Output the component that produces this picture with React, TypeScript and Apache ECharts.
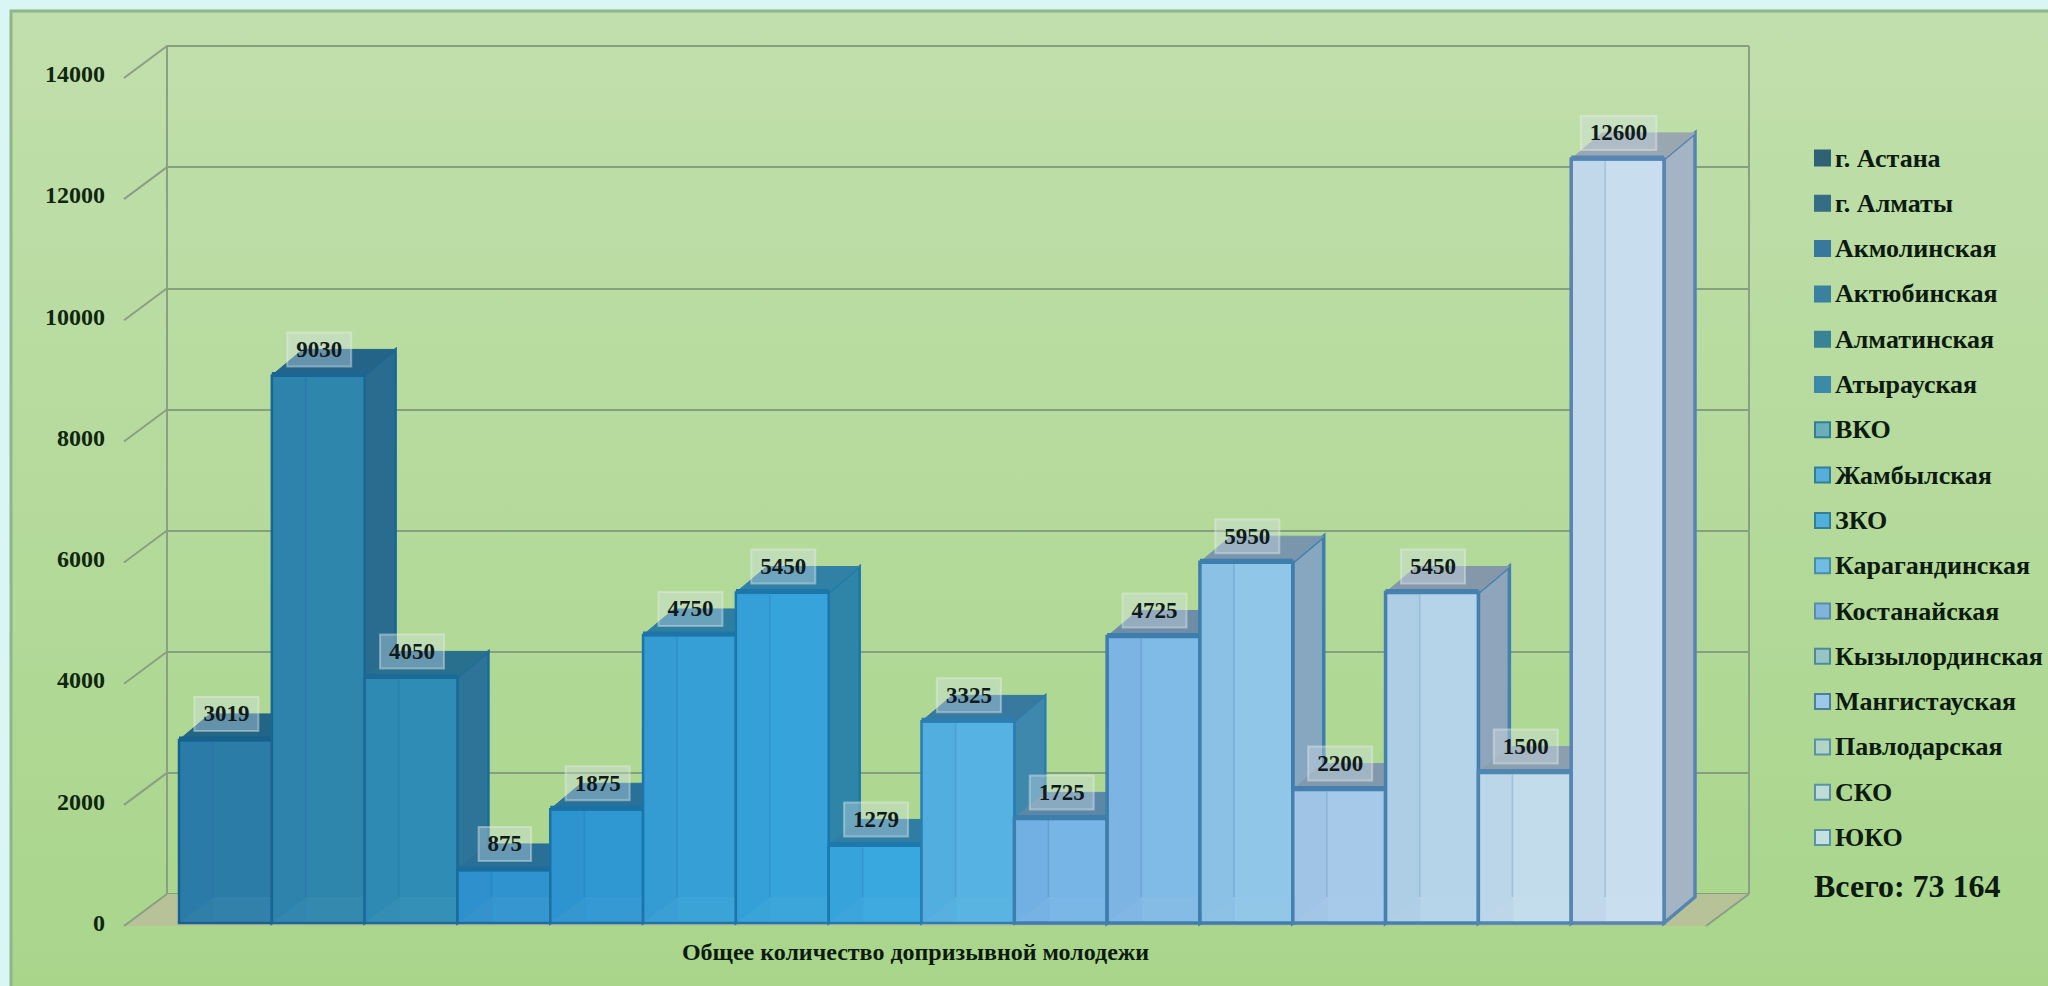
import React, { useEffect, useRef } from "react";
import * as echarts from "echarts";

const regions = ["г. Астана", "г. Алматы", "Акмолинская", "Актюбинская", "Алматинская", "Атырауская", "ВКО", "Жамбылская", "ЗКО", "Карагандинская", "Костанайская", "Кызылординская", "Мангистауская", "Павлодарская", "СКО", "ЮКО"];
const barValues = [3019, 9030, 4050, 875, 1875, 4750, 5450, 1279, 3325, 1725, 4725, 5950, 2200, 5450, 2480, 12600];
const barLabels = ["3019", "9030", "4050", "875", "1875", "4750", "5450", "1279", "3325", "1725", "4725", "5950", "2200", "5450", "1500", "12600"];
const frontColors = ["#2b7da8", "#2e86ad", "#2f8db5", "#2f93cf", "#2f97d2", "#36a0d6", "#36a4da", "#38a8de", "#55b2e2", "#76b5e6", "#80bae6", "#90c6e8", "#a6c9ea", "#b5d4ea", "#c2dcec", "#c8ddee"];
const sideColors = ["#256c90", "#2a6c90", "#2d7498", "#2d7498", "#2d7da8", "#2e80a5", "#2f85a8", "#3389b0", "#3f88ad", "#6f9cbc", "#7d9fb9", "#86a7bf", "#8da8c0", "#8fa5bb", "#9aaec0", "#a3b5c5"];
const topColors = ["#226585", "#246488", "#29708f", "#2a6f95", "#2a7198", "#2e7ea0", "#3180a5", "#2f7da2", "#38799f", "#5c88a8", "#6f8da6", "#7a96ac", "#8299ad", "#8598aa", "#8b9fae", "#99a7b0"];
const edgeColors = ["#18618d", "#1a6793", "#1a6b98", "#1a6e9e", "#1a71a3", "#1c74a8", "#1c76aa", "#1c78ad", "#2a7eb0", "#3e7ead", "#3e7ead", "#3e7ead", "#4680ae", "#4680ae", "#4f87b1", "#5585b0"];
const edgeWidths = [2.5, 2.5, 2.5, 2.5, 2.5, 2.5, 2.5, 2.5, 2.5, 3.5, 3.5, 3.5, 3.5, 3.5, 3.5, 3.5];
const legendColors = ["#2f6274", "#356d85", "#38789a", "#3a81a0", "#3a8296", "#3d8aa8", "#6aaeb8", "#55aedb", "#4fb0dd", "#70bce2", "#80b4dd", "#98c4c4", "#9cc8ea", "#b2d4c6", "#bfdcd6", "#c4e0e0"];
const legendBorders = ["#2f6274", "#356d85", "#38789a", "#3a81a0", "#3a8296", "#3d8aa8", "#347f94", "#347f94", "#347f94", "#4a8ea5", "#5a8da8", "#4d8a9a", "#4d7f98", "#5a93a3", "#5a93a3", "#5a93a3"];
const yTicks = [0, 2000, 4000, 6000, 8000, 10000, 12000, 14000];
const totalText = "Всего: 73 164";
const xTitle = "Общее количество допризывной молодежи";

const SERIF = '"Liberation Serif", serif';
const DEPTH_X = 31;
const DEPTH_Y = 26;

function makeBar(i: number) {
  return (_params: any, api: any) => {
    const idx = api.value(0);
    const val = api.value(1);
    const [cx, top] = api.coord([idx, val]);
    const [, base] = api.coord([idx, 0]);
    const w = api.size([1, 0])[0];
    const x = cx - w / 2;
    const edge = edgeColors[i];
    const stroke = { stroke: edge, lineWidth: edgeWidths[i] };
    return {
      type: "group",
      children: [
        {
          type: "polygon",
          shape: { points: [[x + w, top], [x + w + DEPTH_X, top - DEPTH_Y], [x + w + DEPTH_X, base - DEPTH_Y], [x + w, base]] },
          style: { fill: sideColors[i], ...stroke },
        },
        {
          type: "polygon",
          shape: { points: [[x, top], [x + DEPTH_X, top - DEPTH_Y], [x + w + DEPTH_X, top - DEPTH_Y], [x + w, top]] },
          style: { fill: topColors[i], stroke: topColors[i], lineWidth: 1 },
        },
        { type: "rect", shape: { x, y: top, width: w, height: base - top }, style: { fill: frontColors[i], ...stroke } },
        {
          type: "rect",
          shape: { x: x + 1, y: top + 1, width: DEPTH_X + 3, height: base - top - 2 },
          style: { fill: "rgba(20,80,150,0.04)" },
        },
        {
          type: "polygon",
          shape: { points: [[x + 1, base - 1], [x + DEPTH_X + 4, Math.max(top, base - DEPTH_Y)], [x + w - 1, Math.max(top, base - DEPTH_Y)], [x + w - 1, base - 1]] },
          style: { fill: "rgba(255,255,255,0.03)" },
        },
        {
          type: "line",
          shape: { x1: x + DEPTH_X + 3, y1: top + 2, x2: x + DEPTH_X + 3, y2: base - DEPTH_Y },
          style: { stroke: "rgba(30,90,150,0.16)", lineWidth: 1.5 },
        },
        { type: "line", shape: { x1: x, y1: top - 1, x2: x + w, y2: top - 1 }, style: { stroke: edge, lineWidth: 5 } },
        {
          type: "text",
          style: {
            x: cx + 1,
            y: top - 26,
            text: barLabels[i],
            align: "center",
            verticalAlign: "middle",
            font: `bold 23px ${SERIF}`,
            fill: "#101a1a",
            backgroundColor: "rgba(215,228,235,0.36)",
            borderColor: "rgba(235,245,240,0.4)",
            borderWidth: 1,
            padding: [6, 9, 5, 9],
          },
        },
      ],
    };
  };
}

function renderWall(_params: any, api: any) {
  const t = api.value(1);
  const [lx, y] = api.coord([0, t]);
  const [rx] = api.coord([1, t]);
  const wallLine = { stroke: "#8a9f84", lineWidth: 2 };
  const children: any[] = [];
  if (t === 0) {
    const [, topY] = api.coord([0, 14000]);
    children.push({
      type: "polygon",
      shape: { points: [[lx, y], [rx, y], [rx - 43, y + 32], [lx - 43, y + 32]] },
      style: { fill: "#b7c298" },
    });
    children.push({ type: "line", shape: { x1: rx, y1: topY, x2: rx, y2: y }, style: wallLine });
    children.push({ type: "line", shape: { x1: rx, y1: y, x2: rx - 43, y2: y + 32 }, style: wallLine });
  }
  children.push({ type: "line", shape: { x1: lx, y1: y, x2: lx - 43, y2: y + 32 }, style: wallLine });
  return { type: "group", children };
}

export default function App() {
  const ref = useRef<HTMLDivElement>(null);
  useEffect(() => {
    const chart = echarts.init(ref.current!, undefined, { renderer: "svg" });
    const barSeries = regions.map((name, i) => ({
      type: "custom",
      name,
      xAxisIndex: 0,
      yAxisIndex: 0,
      clip: false,
      z: 5,
      renderItem: makeBar(i),
      itemStyle: { color: legendColors[i], borderColor: legendBorders[i], borderWidth: 2 },
      data: [[i, barValues[i]]],
      encode: { x: 0, y: 1 },
      silent: true,
    }));
    chart.setOption({
      animation: false,
      backgroundColor: "#d9f6f4",
      graphic: [
        {
          type: "rect",
          z: -10,
          shape: { x: 11, y: 11, width: 2060, height: 1000 },
          style: {
            fill: new echarts.graphic.LinearGradient(0, 0, 0, 1, [
              { offset: 0, color: "#c1dfac" },
              { offset: 1, color: "#a8d58a" },
            ]),
            stroke: "#8fb58a",
            lineWidth: 3,
          },
        },
        {
          type: "text",
          z: 10,
          style: { x: 1814, y: 886, text: totalText, verticalAlign: "middle", font: `bold 32px ${SERIF}`, fill: "#0c1a10" },
        },
      ],
      grid: [
        { left: 179, top: 74, width: 1485, height: 849 },
        { left: 167, top: 46, width: 1582, height: 848 },
      ],
      xAxis: [
        {
          type: "category",
          gridIndex: 0,
          data: regions,
          axisLabel: { show: false },
          axisLine: { show: false },
          axisTick: { show: false },
          name: xTitle,
          nameLocation: "middle",
          nameGap: 17,
          nameTextStyle: { fontFamily: SERIF, fontWeight: "bold", fontSize: 24, color: "#0c1a10", padding: [0, 12, 0, 0] },
        },
        { type: "value", gridIndex: 1, min: 0, max: 1, show: false },
      ],
      yAxis: [
        {
          type: "value",
          gridIndex: 0,
          min: 0,
          max: 14000,
          interval: 2000,
          axisLine: { show: false },
          axisTick: { show: false },
          splitLine: { show: false },
          axisLabel: { margin: 74, formatter: (v: number) => String(v), fontFamily: SERIF, fontWeight: "bold", fontSize: 24, color: "#10260f" },
        },
        {
          type: "value",
          gridIndex: 1,
          min: 0,
          max: 14000,
          interval: 2000,
          axisLine: { show: true, lineStyle: { color: "#8a9f84", width: 2 } },
          axisTick: { show: false },
          axisLabel: { show: false },
          splitLine: { show: true, lineStyle: { color: "#84a07f", width: 2 } },
        },
      ],
      legend: {
        orient: "vertical",
        left: 1809,
        top: 140,
        itemWidth: 15,
        itemHeight: 15,
        itemGap: 19.3,
        icon: "rect",
        selectedMode: false,
        textStyle: { fontFamily: SERIF, fontWeight: "bold", fontSize: 26, color: "#0c1a10", lineHeight: 26 },
        data: regions.map((name) => ({ name })),
      },
      series: [
        {
          type: "custom",
          name: "wall",
          xAxisIndex: 1,
          yAxisIndex: 1,
          clip: false,
          z: 1,
          silent: true,
          renderItem: renderWall,
          data: yTicks.map((t) => [0, t]),
          encode: { x: 0, y: 1 },
        },
        ...barSeries,
      ],
    });
    return () => chart.dispose();
  }, []);
  return <div ref={ref} style={{ position: "fixed", left: 0, top: 0, width: 2048, height: 986 }} />;
}
